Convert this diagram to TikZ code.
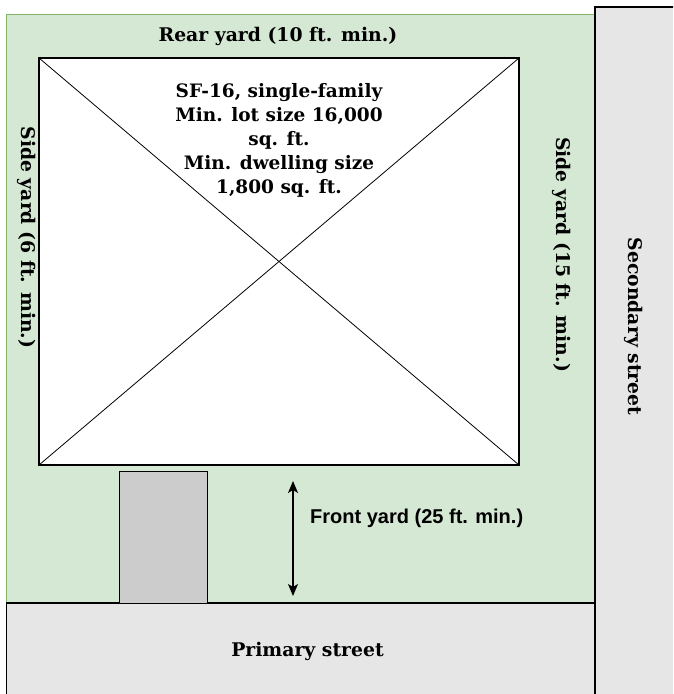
\documentclass[tikz,border=0pt]{standalone}
\usepackage{fontspec}
\setmainfont{DejaVu Serif}
\newfontfamily\frontfont{Liberation Sans}
\usetikzlibrary{arrows.meta}
\definecolor{yardgreen}{HTML}{D5E8D4}
\definecolor{yardedge}{HTML}{82B366}
\definecolor{streetgray}{HTML}{E6E6E6}
\definecolor{drivegray}{HTML}{CCCCCC}

\begin{document}
\begin{tikzpicture}[x=1pt, y=-1pt,
    sitelabel/.style={font=\bfseries\fontsize{18.8}{22}\selectfont, inner sep=0pt},
    sidelabel/.style={sitelabel, rotate=-90}]
    \useasboundingbox (0,0) rectangle (673,694);
    \clip (0,0) rectangle (673,694);

    % Lot
    \draw[yardedge, fill=yardgreen, line width=1pt] (6.5,14.5) rectangle (595,603);

    % Streets
    \draw[fill=streetgray, line width=1.2pt] (595,7) rectangle (700,720);
    \draw[fill=streetgray, line width=1.2pt] (6.5,603) rectangle (595,720);
    \node[sitelabel] (primary) at (307.5,651) {Primary street};
    \node[sidelabel] (secondary) at (634,326.5) {Secondary street};

    % House
    \node[draw, fill=white, line width=1.2pt, inner sep=0pt, outer sep=0pt,
        minimum width=480pt, minimum height=407pt] (house) at (279,261.5) {};
    \draw[line width=0.8pt] (house.north west) -- (house.south east);
    \draw[line width=0.8pt] (house.north east) -- (house.south west);
    \node[font=\bfseries\fontsize{18.5}{24}\selectfont, align=center, inner sep=0pt]
        (zoning) at (279,140) {SF-16, single-family\\Min. lot size 16,000\\sq. ft.\\Min. dwelling size\\1,800 sq. ft.};

    % Driveway
    \draw[fill=drivegray, line width=1pt] (119,603) -- (119,471) -- (207,471) -- (207,603);

    % Yards
    \node[sitelabel] (rear) at (278,36.8) {Rear yard (10 ft. min.)};
    \node[sidelabel] (sideleft) at (26.6,237.5) {Side yard (6 ft. min.)};
    \node[sidelabel] (sideright) at (562,254.5) {Side yard (15 ft. min.)};

    % Front yard
    \coordinate (fronttop) at (293,481);
    \coordinate (frontbot) at (293,596);
    \draw[{Stealth[length=12pt, width=10pt, inset=3pt]}-{Stealth[length=12pt, width=10pt, inset=3pt]}, line width=1.2pt] (fronttop) -- (frontbot);
    \node[font=\frontfont\bfseries\fontsize{20}{24}\selectfont, anchor=west, inner sep=0pt]
        (front) at (310,518) {Front yard (25 ft. min.)};
\end{tikzpicture}
\end{document}
